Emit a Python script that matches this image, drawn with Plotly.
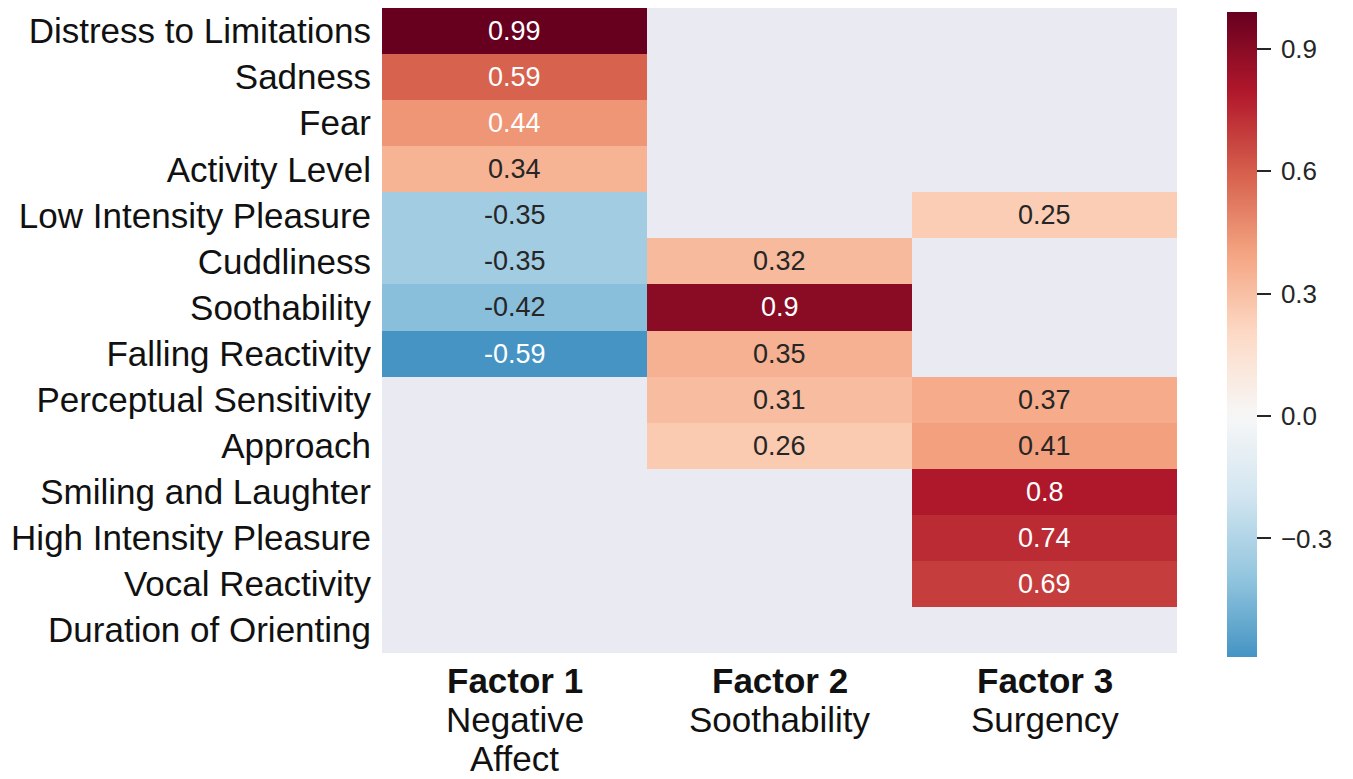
import numpy as np
import plotly.graph_objects as go

# Temperament scales (rows) and factor loadings per factor (columns)
scales = [
    "Distress to Limitations", "Sadness", "Fear", "Activity Level",
    "Low Intensity Pleasure", "Cuddliness", "Soothability", "Falling Reactivity",
    "Perceptual Sensitivity", "Approach", "Smiling and Laughter",
    "High Intensity Pleasure", "Vocal Reactivity", "Duration of Orienting",
]
factor_titles = ["Factor 1", "Factor 2", "Factor 3"]
factor_names = [["Negative", "Affect"], ["Soothability"], ["Surgency"]]

nan = None
factor1 = [0.99, 0.59, 0.44, 0.34, -0.35, -0.35, -0.42, -0.59, nan, nan, nan, nan, nan, nan]
factor2 = [nan, nan, nan, nan, nan, 0.32, 0.90, 0.35, 0.31, 0.26, nan, nan, nan, nan]
factor3 = [nan, nan, nan, nan, 0.25, nan, nan, nan, 0.37, 0.41, 0.80, 0.74, 0.69, nan]

cbar_ticks = [-0.3, 0.0, 0.3, 0.6, 0.9]

FONT = "Liberation Sans, Arial, Helvetica"

# Diverging RdBu (reversed), centred at zero
rdbu_r = np.array([
    [5, 48, 97], [33, 102, 172], [67, 147, 195], [146, 197, 222],
    [209, 229, 240], [247, 247, 247], [253, 219, 199], [244, 165, 130],
    [214, 96, 77], [178, 24, 43], [103, 0, 31],
], dtype=float)
stops = np.linspace(0, 1, len(rdbu_r))

columns = [factor1, factor2, factor3]
vals = [v for col in columns for v in col if v is not None]
zmin, zmax = min(vals), max(vals)
vrange = max(abs(zmin), abs(zmax))


def cmap(v):
    u = (v + vrange) / (2 * vrange)
    return np.array([np.interp(u, stops, rdbu_r[:, k]) for k in range(3)])


def luminance(rgb):
    c = rgb / 255.0
    c = np.where(c <= 0.03928, c / 12.92, ((c + 0.055) / 1.055) ** 2.4)
    return 0.2126 * c[0] + 0.7152 * c[1] + 0.0722 * c[2]


samples = np.linspace(zmin, zmax, 61)
colorscale = []
for s in samples:
    r, g, b = cmap(s)
    colorscale.append([(s - zmin) / (zmax - zmin), f"rgb({r:.0f},{g:.0f},{b:.0f})"])

z = [[columns[j][i] for j in range(3)] for i in range(len(scales))]

fig = go.Figure(go.Heatmap(
    z=z,
    x=factor_titles,
    y=scales,
    zmin=zmin, zmax=zmax,
    colorscale=colorscale,
    hoverongaps=False,
    colorbar=dict(
        thickness=30,
        outlinewidth=0,
        xanchor="left", x=1.063, xpad=0,
        lenmode="pixels", len=645,
        yanchor="middle", y=0.494, ypad=0,
        tickvals=cbar_ticks,
        ticktext=["\u2009" + f"{t:.1f}".replace("-", "\u2212") for t in cbar_ticks],
        ticks="outside", ticklen=14, tickwidth=2, tickcolor="#262626",
        tickfont=dict(family=FONT, size=26, color="#262626"),
    ),
))

annotations = []
for i, name in enumerate(scales):
    for j, col in enumerate(columns):
        v = col[i]
        if v is None:
            continue
        color = "#262626" if luminance(cmap(v)) > 0.42 else "white"
        annotations.append(dict(
            x=factor_titles[j], y=name, text=f"{v:.2g}",
            showarrow=False, xref="x", yref="y",
            font=dict(family=FONT, size=27, color=color),
        ))

for j, title in enumerate(factor_titles):
    annotations.append(dict(
        x=title, y=0, xref="x", yref="paper", yanchor="middle",
        yshift=-27, showarrow=False, text=f"<b>{title}</b>",
        font=dict(family=FONT, size=35, color="#111111"),
    ))
    for k, line in enumerate(factor_names[j]):
        annotations.append(dict(
            x=title, y=0, xref="x", yref="paper", yanchor="middle",
            yshift=-66 - 39 * k, showarrow=False, text=line,
            font=dict(family=FONT, size=35, color="#111111"),
        ))

fig.update_layout(
    width=1353, height=779,
    margin=dict(l=382, r=176, t=8, b=126),
    paper_bgcolor="white",
    plot_bgcolor="#eaeaf2",
    annotations=annotations,
    xaxis=dict(showticklabels=False, showgrid=False, zeroline=False, ticks=""),
    yaxis=dict(
        autorange="reversed", showgrid=False, zeroline=False, ticks="",
        ticklabelstandoff=10,
        tickfont=dict(family=FONT, size=35, color="#111111"),
    ),
)

fig.write_html("out.html")
